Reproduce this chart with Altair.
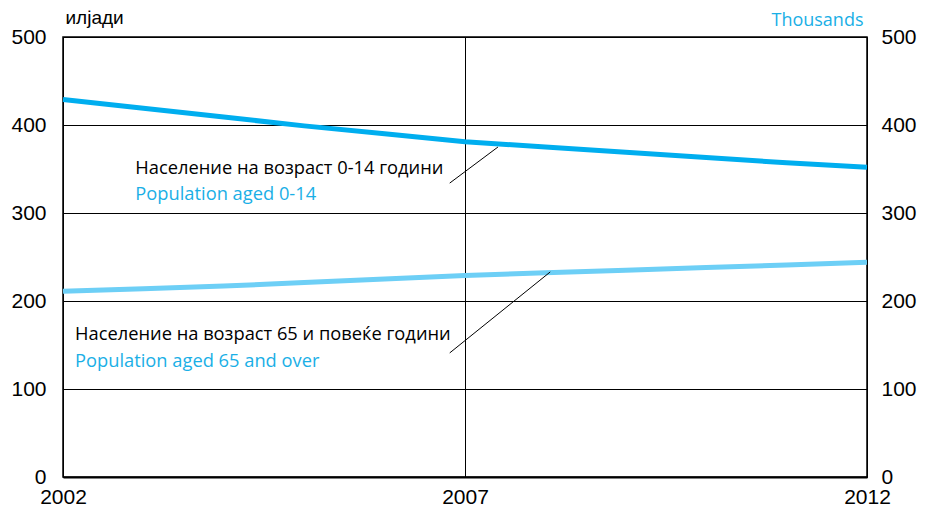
import altair as alt
import pandas as pd

years = [2002, 2003, 2004, 2005, 2006, 2007, 2008, 2009, 2010, 2011, 2012]
pop_0_14 = [429, 419, 409, 399, 390, 381, 375, 369, 363, 357, 352]
pop_65 = [211, 214, 217, 221, 225, 229, 232, 235, 238, 241, 244]

series_names = ["0-14", "65+"]
series_colors = ["#00AEEF", "#6DCFF6"]

ann_lines_x = [[2006.81, 2007.41], [2006.81, 2008.06]]
ann_lines_y = [[334, 375], [141, 233]]

labels_text = ["Население на возраст 0-14 години", "Population aged 0-14",
               "Население на возраст 65 и повеќе години", "Population aged 65 and over"]
labels_x = [2002.9, 2002.9, 2002.15, 2002.15]
labels_y = [350, 320, 161, 131]
labels_color = ["black", "#1AAFE6", "black", "#1AAFE6"]

rows = []
for name, vals in zip(series_names, [pop_0_14, pop_65]):
    for y, v in zip(years, vals):
        rows.append({"year": y, "value": v, "series": name})
df = pd.DataFrame(rows)

lrows = []
for i, (xs, ys) in enumerate(zip(ann_lines_x, ann_lines_y)):
    for x, y in zip(xs, ys):
        lrows.append({"x": x, "y": y, "g": i})
ldf = pd.DataFrame(lrows)

tdf = pd.DataFrame({"t": labels_text, "x": labels_x, "y": labels_y, "c": labels_color})

xscale = alt.Scale(domain=[2002, 2012], nice=False, zero=False)
yscale = alt.Scale(domain=[0, 500], nice=False)

axis_font = "Liberation Sans"

x_axis = alt.Axis(
    values=[2002, 2007, 2012], format="d", title=None, ticks=False, domain=True,
    domainColor="black", domainWidth=2,
    labelFont=axis_font, labelFontSize=21, labelColor="black", labelPadding=9,
    labelFlush=False, grid=True, gridColor="black", gridWidth=1)

left_axis = alt.Axis(
    values=[0, 100, 200, 300, 400, 500], title="илјади", titleAngle=0,
    titleX=2, titleY=-14, titleAlign="left", titleBaseline="alphabetic",
    titleFont=axis_font, titleFontSize=19, titleFontWeight="normal", titleColor="black",
    ticks=False, domain=False, labelFont=axis_font, labelFontSize=21,
    labelColor="black", labelPadding=17, grid=True, gridColor="black", gridWidth=1)

lines = alt.Chart(df).mark_line(strokeWidth=5).encode(
    x=alt.X("year:Q", scale=xscale, axis=x_axis),
    y=alt.Y("value:Q", scale=yscale, axis=left_axis),
    color=alt.Color("series:N", scale=alt.Scale(domain=series_names, range=series_colors), legend=None),
)

ann = alt.Chart(ldf).mark_line(color="black", strokeWidth=1).encode(
    x=alt.X("x:Q", scale=xscale, axis=x_axis),
    y=alt.Y("y:Q", scale=yscale, axis=left_axis),
    detail="g:N",
)

txt = alt.Chart(tdf).mark_text(align="left", baseline="middle", font="Open Sans", fontSize=18.3).encode(
    x=alt.X("x:Q", scale=xscale, axis=x_axis),
    y=alt.Y("y:Q", scale=yscale, axis=left_axis),
    text="t:N",
    color=alt.Color("c:N", scale=None),
)

right = alt.Chart(df).mark_line(opacity=0).encode(
    x=alt.X("year:Q", scale=xscale, axis=x_axis),
    y=alt.Y("value:Q", scale=yscale, axis=alt.Axis(
        orient="right", values=[0, 100, 200, 300, 400, 500], title="Thousands",
        titleAngle=0, titleX=-4, titleY=-12, titleAlign="right", titleBaseline="alphabetic",
        titleFont="Open Sans", titleFontSize=18, titleFontWeight="normal", titleColor="#1AAFE6",
        ticks=False, domain=False, grid=False, labelFont=axis_font, labelFontSize=21,
        labelColor="black", labelPadding=14)),
    detail="series:N",
)

inner = alt.layer(lines, ann, txt)

chart = alt.layer(inner, right).resolve_scale(y="independent").properties(
    width=804, height=440,
    background="white",
    autosize=alt.AutoSizeParams(type="none"),
    padding={"left": 55, "top": 29, "right": 50, "bottom": 30},
).configure_view(stroke="black", strokeWidth=1.5)

chart.save("out.html", embed_options={"renderer": "svg", "actions": False})
